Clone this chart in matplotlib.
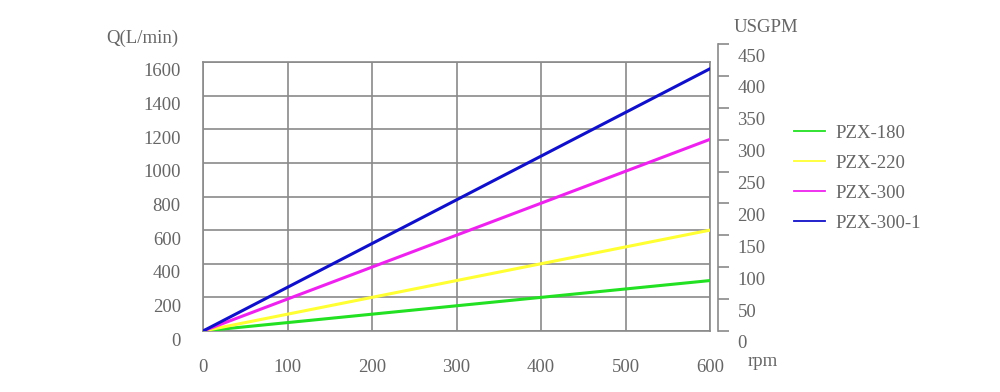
import matplotlib
matplotlib.use('Agg')
import matplotlib.pyplot as plt
import matplotlib.transforms as mtrans

# data
rpm = [0, 600]
series_names = ['PZX-180', 'PZX-220', 'PZX-300', 'PZX-300-1']
pzx180 = [0, 300]
pzx220 = [0, 600]
pzx300 = [0, 1140]
pzx300_1 = [0, 1560]
colors = ['#22e022', '#ffff33', '#ee22ee', '#1010c8']

x_ticks = [0, 100, 200, 300, 400, 500, 600]
q_ticks = [0, 200, 400, 600, 800, 1000, 1200, 1400, 1600]
gpm_ticks = [0, 50, 100, 150, 200, 250, 300, 350, 400, 450]

plt.rcParams['font.family'] = ['Liberation Serif', 'DejaVu Serif']
txt = '#666666'
gridc = '#8a8a8a'
fs = 13.5

fig = plt.figure(figsize=(10, 3.92), dpi=100)
W, H = 1000.0, 392.0

ax = fig.add_axes([203 / W, (H - 331) / H, (710 - 203) / W, (331 - 62) / H])
for name, vals, c in zip(series_names, [pzx180, pzx220, pzx300, pzx300_1], colors):
    ax.plot(rpm, vals, color=c, lw=2.2, label=name, zorder=3)
ax.set_xlim(0, 600)
ax.set_ylim(0, 1600)
ax.set_xticks(x_ticks)
ax.set_yticks(q_ticks)
ax.grid(True, color=gridc, lw=1.2)
for s in ax.spines.values():
    s.set_color(gridc)
    s.set_linewidth(1.2)
ax.tick_params(length=0, labelsize=fs, colors=txt)
ax.tick_params(axis='x', pad=20)
ax.tick_params(axis='y', pad=16)
# y labels sit a little below their grid lines
off = mtrans.ScaledTranslation(0, -8 / 100, fig.dpi_scale_trans)
for lab in ax.get_yticklabels():
    lab.set_transform(lab.get_transform() + off)

# right USGPM axis
ax2 = fig.add_axes([680 / W, (H - 331) / H, (718 - 680) / W, (331 - 44) / H])
ax2.patch.set_visible(False)
for k in ['left', 'top', 'bottom']:
    ax2.spines[k].set_visible(False)
ax2.spines['right'].set_color(gridc)
ax2.spines['right'].set_linewidth(1.2)
ax2.set_xticks([])
ax2.yaxis.tick_right()
ax2.set_ylim(0, 450)
ax2.set_yticks(gpm_ticks)
ax2.tick_params(axis='y', direction='out', length=8, width=1.2, color=gridc,
                labelsize=fs, labelcolor=txt, pad=6)
off2 = mtrans.ScaledTranslation(0, -11 / 100, fig.dpi_scale_trans)
for lab in ax2.get_yticklabels():
    lab.set_transform(lab.get_transform() + off2)

fig.text(142 / W, (H - 38) / H, 'Q(L/min)', ha='center', va='center', fontsize=fs, color=txt)
fig.text(766 / W, (H - 28) / H, 'USGPM', ha='center', va='center', fontsize=fs, color=txt)
fig.text(763 / W, (H - 361) / H, 'rpm', ha='center', va='center', fontsize=fs, color=txt)

handles, labels = ax.get_legend_handles_labels()
leg = fig.legend(handles, labels, loc='upper left', bbox_to_anchor=(777 / W, (H - 108) / H),
                 frameon=False, fontsize=fs, handlelength=1.65, labelspacing=0.68,
                 handletextpad=0.55, labelcolor=txt)
for l in leg.get_lines():
    l.set_linewidth(1.3)

fig.savefig('out.png', dpi=100)
